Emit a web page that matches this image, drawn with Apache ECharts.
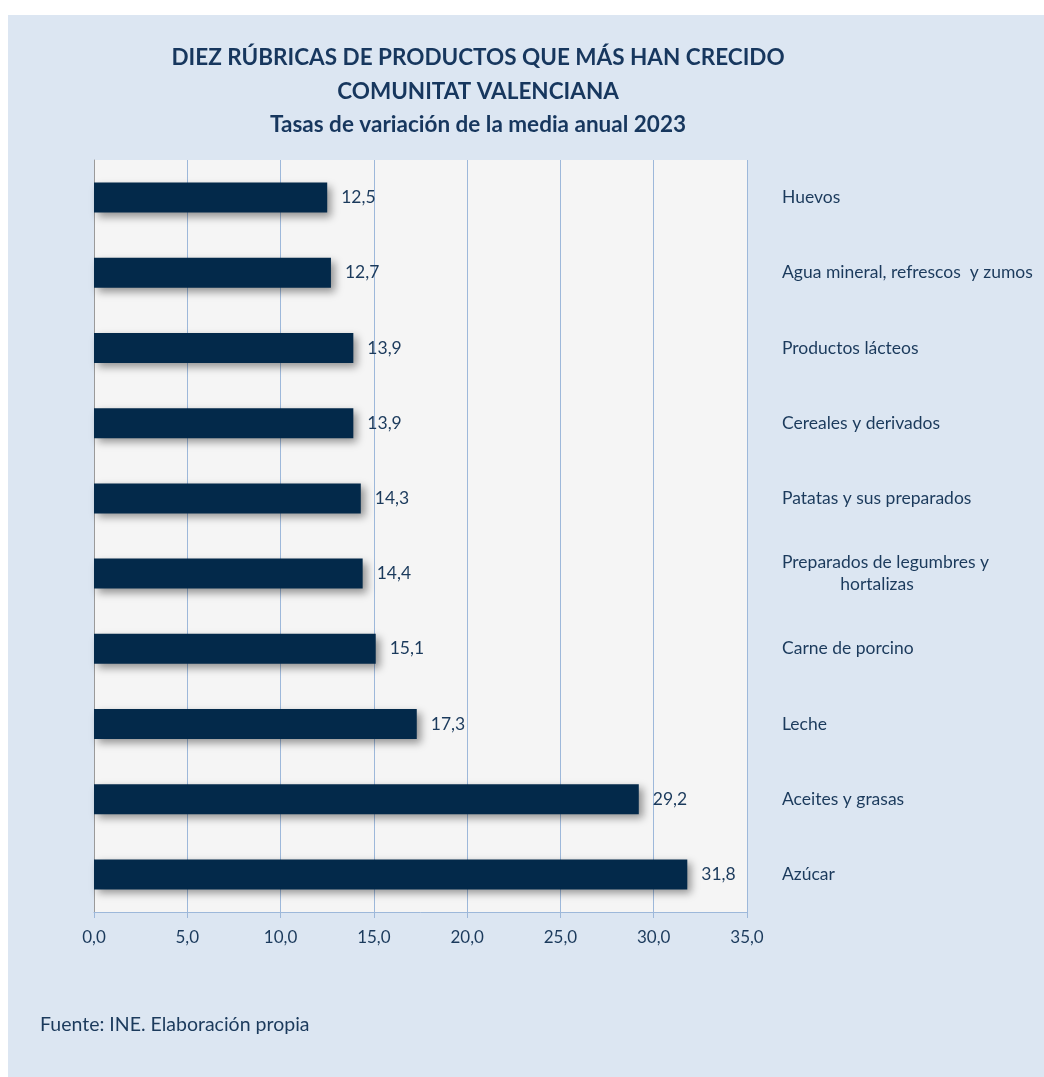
<!DOCTYPE html>
<html><head><meta charset="utf-8">
<script src="https://cdn.jsdelivr.net/npm/echarts@6/dist/echarts.min.js"></script>
<style>
html,body{margin:0;padding:0;background:#fff;width:1044px;height:1077px;overflow:hidden;}
#c{position:absolute;left:8px;top:15px;width:1036px;height:1062px;background:#DCE6F2;}
</style></head>
<body><div id="c"></div>
<script>
const categories = ["Huevos","Agua mineral, refrescos  y zumos","Productos lácteos","Cereales y derivados","Patatas y sus preparados","Preparados de legumbres y\n             hortalizas","Carne de porcino","Leche","Aceites y grasas","Azúcar"];
const values = [12.5,12.7,13.9,13.9,14.3,14.4,15.1,17.3,29.2,31.8];
const titleLines = ["DIEZ RÚBRICAS DE PRODUCTOS QUE MÁS HAN CRECIDO","COMUNITAT VALENCIANA","Tasas de variación de la media anual 2023"];
const source = "Fuente: INE. Elaboración propia";
const FONT = "Lato";
const TXT = "#1B3A5C";
const fmt = v => v.toFixed(1).replace('.', ',');
const chart = echarts.init(document.getElementById('c'));
chart.setOption({
  animation:false,
  textStyle:{fontFamily:FONT},
  graphic:[
    ...titleLines.map((t,i)=>({type:'text',x:470,y:43+i*33.5,style:{text:t,textAlign:'center',textVerticalAlign:'middle',font:'bold 22.5px '+FONT,fill:'#17375E'}})),
    {type:'text',x:32,y:1010,style:{text:source,textAlign:'left',textVerticalAlign:'middle',font:'19.5px '+FONT,fill:TXT}}
  ],
  grid:{left:86,top:145,width:653,height:752,show:true,backgroundColor:'#F5F5F5',borderWidth:0},
  xAxis:{type:'value',min:0,max:35,interval:5,
    axisLine:{show:true,lineStyle:{color:'#9DB8DA'}},
    axisTick:{show:true,length:6,lineStyle:{color:'#9DB8DA'}},
    splitLine:{show:true,lineStyle:{color:'#9DB8DA',width:1}},
    axisLabel:{formatter:fmt,color:TXT,fontSize:17,margin:17,fontFamily:FONT}},
  yAxis:[
    {type:'category',data:categories,inverse:true,position:'left',
      axisLine:{show:true,lineStyle:{color:'#9A9A9A'}},axisTick:{show:false},axisLabel:{show:false}},
    {type:'category',data:categories,inverse:true,position:'right',
      axisLine:{show:false},axisTick:{show:false},
      axisLabel:{show:true,align:'left',margin:35,color:TXT,fontSize:17.5,lineHeight:22,fontFamily:FONT}}
  ],
  series:[{type:'bar',yAxisIndex:0,data:values,barWidth:30,
    itemStyle:{color:'#03294A',shadowColor:'rgba(0,0,0,0.4)',shadowBlur:8,shadowOffsetX:4,shadowOffsetY:4},
    label:{show:true,position:'right',distance:14,formatter:p=>fmt(p.value),color:TXT,fontSize:17.5,fontFamily:FONT}}]
});
</script></body></html>
